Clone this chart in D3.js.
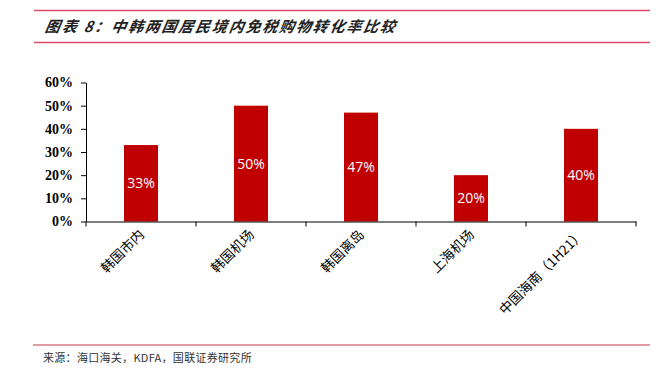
<!DOCTYPE html>
<html>
<head>
<meta charset="utf-8">
<script src="https://cdn.jsdelivr.net/npm/d3@7"></script>
<style>
    body { margin: 0; background: #fff; }
    svg { display: block; }
</style>
</head>
<body>
<svg id="chart" width="662" height="377"></svg>
<script>
const categories = ["韩国市内", "韩国机场", "韩国离岛", "上海机场", "中国海南（1H21）"];
const rates = [0.33, 0.50, 0.47, 0.20, 0.40];
const yTicks = [0, 0.1, 0.2, 0.3, 0.4, 0.5, 0.6];
const titleText = "图表 8：中韩两国居民境内免税购物转化率比较";
const sourceText = "来源：海口海关，KDFA，国联证券研究所";

const svg = d3.select("#chart");
const cjk = "'Noto Sans CJK SC', 'Noto Sans', sans-serif";

// header / footer rules
svg.append("line").attr("x1", 34).attr("x2", 650).attr("y1", 10.5).attr("y2", 10.5)
    .attr("stroke", "#e04a6a").attr("stroke-width", 1.5);
svg.append("line").attr("x1", 34).attr("x2", 650).attr("y1", 42.5).attr("y2", 42.5)
    .attr("stroke", "#e04a6a").attr("stroke-width", 1.5);
svg.append("line").attr("x1", 33).attr("x2", 650).attr("y1", 345).attr("y2", 345)
    .attr("stroke", "#c8344f").attr("stroke-width", 1.2);

// title (slanted to mimic the italic kai face)
svg.append("text")
    .attr("x", 45).attr("y", 32)
    .style("font-family", cjk)
    .style("font-size", "15px")
    .style("font-weight", "bold")
    .style("font-style", "italic")
    .style("letter-spacing", "1.8px")
    .attr("transform", "skewX(-10) translate(5,0)")
    .style("fill", "#222")
    .text(titleText);

svg.append("text")
    .attr("x", 43).attr("y", 362)
    .style("font-family", cjk)
    .style("font-size", "11px")
    .style("fill", "#333")
    .style("letter-spacing", "0.3px")
    .text(sourceText);

// scales
const x = d3.scaleBand().domain(categories).range([86, 636]).paddingInner(0).paddingOuter(0);
const y = d3.scaleLinear().domain([0, 0.6]).range([221.5, 82.5]);
const barW = 34;

// bars
svg.selectAll(".bar")
    .data(rates)
    .join("rect")
    .attr("class", "bar")
    .attr("x", (d, i) => x(categories[i]) + x.bandwidth() / 2 - barW / 2)
    .attr("y", d => y(d))
    .attr("width", barW)
    .attr("height", d => y(0) - y(d))
    .attr("fill", "#c00000");

// bar labels
svg.selectAll(".val")
    .data(rates)
    .join("text")
    .attr("class", "val")
    .attr("x", (d, i) => x(categories[i]) + x.bandwidth() / 2)
    .attr("y", d => (y(d) + y(0)) / 2 + 5)
    .attr("text-anchor", "middle")
    .style("font-family", "'Open Sans', sans-serif")
    .style("font-size", "14px")
    .style("fill", "#fff")
    .text(d => Math.round(d * 100) + "%");

// y axis
const yAxis = svg.append("g")
    .attr("transform", "translate(86,0)")
    .call(d3.axisLeft(y).tickValues(yTicks).tickFormat(d3.format(".0%")).tickSize(5).tickSizeOuter(0));
yAxis.select(".domain").attr("stroke", "#000");
yAxis.selectAll(".tick line").attr("stroke", "#000");
yAxis.selectAll(".tick text")
    .attr("x", -13)
    .style("font-family", "'Liberation Serif', serif")
    .style("font-size", "14px")
    .style("font-weight", "bold")
    .style("fill", "#000");

// x axis
const xAxis = svg.append("g")
    .attr("transform", `translate(0,${y(0)})`)
    .call(d3.axisBottom(x).tickSize(0).tickFormat(""));
xAxis.select(".domain").attr("stroke", "#000").attr("stroke-width", 1.2);

// category boundary ticks
const bounds = [86].concat(categories.map(c => x(c) + x.bandwidth()));
svg.selectAll(".xtick")
    .data(bounds)
    .join("line")
    .attr("class", "xtick")
    .attr("x1", d => d).attr("x2", d => d)
    .attr("y1", y(0)).attr("y2", y(0) + 5)
    .attr("stroke", "#000");

// rotated category labels
svg.selectAll(".cat")
    .data(categories)
    .join("text")
    .attr("class", "cat")
    .attr("text-anchor", "end")
    .attr("transform", d => `translate(${x(d) + x.bandwidth() / 2 + 4},${y(0) + 14}) rotate(-45)`)
    .style("font-family", cjk)
    .style("font-size", "13.5px")
    .style("fill", "#000")
    .text(d => d);
</script>
</body>
</html>
